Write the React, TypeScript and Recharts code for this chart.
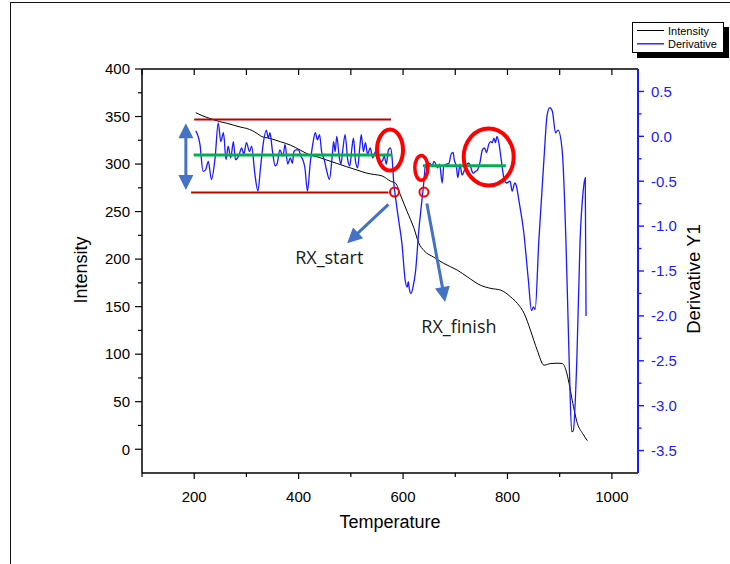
import React from 'react';
import { LineChart, Line, XAxis, YAxis, ReferenceLine, ReferenceDot, Legend, Label } from 'recharts';

// ---------- data ----------
const intensityT = [203, 215, 230, 249, 262, 275, 288, 300, 312, 320, 329, 345, 365, 384, 403, 422, 435, 454, 473, 492, 512, 530, 545, 560, 576, 586, 595, 608, 621, 630, 640, 659, 678, 704, 723, 748, 768, 787, 806, 819, 832, 844, 857, 870, 883, 895, 905, 912, 918, 924, 934, 944, 953];
const intensityV = [354, 351, 348, 344.6, 343, 341, 339, 337.5, 335, 332.3, 329, 327, 323.5, 320, 314.7, 309.5, 307.7, 304.2, 300.7, 297.2, 293.7, 290.5, 289, 287.5, 282, 279.7, 267.4, 249.8, 232.3, 217, 209, 202, 195.5, 188.4, 181.4, 172.6, 169.2, 167.4, 160.3, 153.4, 142.8, 125.3, 104.2, 88.4, 90.2, 90.5, 90.2, 83.2, 69.2, 51.6, 27, 16.5, 9];

const derivT = [203, 211, 217, 222, 227, 233, 240, 246, 251, 256, 261, 265, 270, 275, 279, 285, 291, 295, 300, 306, 310, 316, 322, 327, 332, 338, 342, 345, 350, 355, 359, 364, 370, 374, 379, 384, 388, 391, 395, 400, 404, 408, 412, 417, 422, 427, 432, 436, 440, 444, 449, 454, 459, 464, 467, 470, 473, 478, 481, 485, 489, 494, 498, 502, 505, 509, 513, 517, 520, 524, 528, 532, 537, 542, 547, 552, 556, 560, 564, 568, 572, 576, 579, 582, 586, 592, 598, 604, 608, 610, 612, 615, 619, 624, 630, 636, 640, 643, 646, 651, 656, 659, 662, 666, 670, 675, 678, 683, 688, 692, 696, 698, 702, 705, 709, 713, 718, 722, 726, 729, 734, 739, 743, 747, 752, 756, 760, 764, 768, 771, 774, 777, 780, 784, 788, 793, 798, 805, 809, 814, 817, 822, 831, 840, 846, 850, 853, 860, 870, 876, 881, 886, 892, 897, 905, 912, 918, 923, 926, 933, 939, 945, 949, 950.5];
const derivV = [0.06, -0.09, -0.39, -0.37, -0.28, -0.48, -0.24, 0.15, -0.06, 0.04, -0.26, -0.11, -0.24, -0.06, -0.26, -0.22, -0.13, -0.2, -0.07, -0.17, -0.11, -0.41, -0.61, -0.35, -0.09, 0.07, -0.02, 0.04, -0.17, -0.33, -0.3, -0.15, -0.22, -0.09, -0.31, -0.24, -0.3, -0.17, -0.15, -0.15, -0.22, -0.26, -0.35, -0.61, -0.31, -0.09, 0.04, -0.04, 0.02, -0.17, -0.26, -0.39, -0.48, -0.24, -0.06, -0.17, 0, -0.24, -0.31, -0.13, 0.02, -0.26, -0.33, -0.13, -0.02, -0.28, -0.35, -0.13, 0.02, -0.17, -0.07, -0.2, -0.13, -0.24, -0.17, -0.24, -0.28, -0.28, -0.22, -0.31, -0.15, -0.13, -0.24, -0.5, -0.7, -0.95, -1.2, -1.6, -1.68, -1.62, -1.7, -1.75, -1.68, -1.5, -1.06, -0.72, -0.5, -0.31, -0.37, -0.3, -0.33, -0.28, -0.3, -0.35, -0.31, -0.52, -0.33, -0.31, -0.3, -0.2, -0.18, -0.26, -0.33, -0.46, -0.31, -0.43, -0.37, -0.31, -0.3, -0.33, -0.41, -0.39, -0.37, -0.3, -0.15, -0.13, -0.18, -0.09, -0.06, -0.07, -0.02, -0.07, 0, -0.09, -0.26, -0.46, -0.52, -0.5, -0.61, -0.52, -0.55, -0.72, -1.06, -1.6, -1.94, -1.9, -1.93, -1.17, -0.24, 0.24, 0.32, 0.28, 0.04, 0.07, -0.17, -1.17, -2.46, -3.29, -3.28, -2.46, -1.17, -0.61, -0.46, -2.0];

const xTicks = [100, 200, 300, 400, 500, 600, 700, 800, 900, 1000];
const xMajor = [200, 400, 600, 800, 1000];
const leftTicks = [0, 25, 50, 75, 100, 125, 150, 175, 200, 225, 250, 275, 300, 325, 350, 375, 400];
const leftMajor = [0, 50, 100, 150, 200, 250, 300, 350, 400];
const rightTicks = [-3.5, -3.25, -3, -2.75, -2.5, -2.25, -2, -1.75, -1.5, -1.25, -1, -0.75, -0.5, -0.25, 0, 0.25, 0.5];
const rightMajor = [-3.5, -3, -2.5, -2, -1.5, -1, -0.5, 0, 0.5];

const intensityData = intensityT.map((t, i) => ({ t, v: intensityV[i] }));
const derivData = derivT.map((t, i) => ({ t, d: derivV[i] }));

// ---------- styles ----------
const FONT = '"Liberation Sans", Arial, sans-serif';
const CAL = '"Open Sans", "Noto Sans", sans-serif';
const BLUE = '#1a1aff';
const RED = '#ff0000';
const DARKRED = '#c00000';
const GREEN = '#00b050';
const ARROW = '#4472c4';

const BottomTick = (p: any) => {
  const { x, y, payload } = p;
  const major = xMajor.includes(payload.value);
  return (
    <g>
      <line x1={x} x2={x} y1={y} y2={y + (major ? 6 : 4)} stroke="#000" strokeWidth={1.2} />
      {major && (
        <text x={x} y={y + 29} textAnchor="middle" fontSize={15} fontFamily={FONT} fill="#000">
          {payload.value}
        </text>
      )}
    </g>
  );
};

const TopTick = (p: any) => {
  const { x, y } = p;
  return <line x1={x} x2={x} y1={y} y2={y + 6} stroke="#000" strokeWidth={1.2} />;
};

const LeftTick = (p: any) => {
  const { x, y, payload } = p;
  const major = leftMajor.includes(payload.value);
  return (
    <g>
      <line x1={x - (major ? 7 : 4)} x2={x} y1={y} y2={y} stroke="#000" strokeWidth={1.2} />
      {major && (
        <text x={x - 12} y={y + 5.3} textAnchor="end" fontSize={15} fontFamily={FONT} fill="#000">
          {payload.value}
        </text>
      )}
    </g>
  );
};

const RightTick = (p: any) => {
  const { x, y, payload } = p;
  const major = rightMajor.includes(payload.value);
  return (
    <g>
      <line x1={x} x2={x + (major ? 6 : 3.5)} y1={y} y2={y} stroke={BLUE} strokeWidth={1.4} />
      {major && (
        <text x={x + 13} y={y + 5.3} textAnchor="start" fontSize={15} fontFamily={FONT} fill={BLUE}>
          {Number(payload.value).toFixed(1)}
        </text>
      )}
    </g>
  );
};

const arrowShape = (double: boolean) => (p: any) => {
  const x1 = Number(p.x1), y1 = Number(p.y1), x2 = Number(p.x2), y2 = Number(p.y2);
  const dx = x2 - x1, dy = y2 - y1;
  const len = Math.hypot(dx, dy) || 1;
  const ux = dx / len, uy = dy / len;
  const hl = 15, hw = 7.5;
  const head = (tx: number, ty: number, vx: number, vy: number) => {
    const bx = tx - vx * hl, by = ty - vy * hl;
    return `${tx},${ty} ${bx - vy * hw},${by + vx * hw} ${bx + vy * hw},${by - vx * hw}`;
  };
  const sx = double ? x1 + ux * hl * 0.9 : x1;
  const sy = double ? y1 + uy * hl * 0.9 : y1;
  return (
    <g>
      <line x1={sx} y1={sy} x2={x2 - ux * hl * 0.9} y2={y2 - uy * hl * 0.9} stroke={ARROW} strokeWidth={3} />
      <polygon points={head(x2, y2, ux, uy)} fill={ARROW} />
      {double && <polygon points={head(x1, y1, -ux, -uy)} fill={ARROW} />}
    </g>
  );
};

const ellipseShape = (rx: number, ry: number, sw: number) => (p: any) => (
  <ellipse cx={p.cx} cy={p.cy} rx={rx} ry={ry} fill="none" stroke={RED} strokeWidth={sw} />
);

const textShape = (txt: string) => (p: any) => (
  <text x={p.cx} y={p.cy} textAnchor="middle" fontSize={18} fontFamily={CAL} fill="#1a1a1a">
    {txt}
  </text>
);

const LegendBox = () => (
  <div style={{ width: 92, height: 31, boxSizing: 'border-box', border: '1px solid #000', background: '#fff', boxShadow: '5px 5px 0 #000' }}>
    <svg width={90} height={29} style={{ display: 'block' }}>
      <line x1={4} x2={31} y1={7.5} y2={7.5} stroke="#000" strokeWidth={1} />
      <text x={35} y={11.5} fontSize={11} fontFamily={FONT} fill="#000">Intensity</text>
      <line x1={4} x2={31} y1={20.8} y2={20.8} stroke={BLUE} strokeWidth={1.4} />
      <text x={35} y={24.8} fontSize={11} fontFamily={FONT} fill="#000">Derivative</text>
    </svg>
  </div>
);

export default function App() {
  return (
    <div style={{ position: 'fixed', left: 0, top: 0, width: 730, height: 564, overflow: 'hidden', background: '#fff' }}>
      <div style={{ position: 'absolute', left: 10, top: 2, width: 800, height: 700, borderTop: '1.6px solid #111', borderLeft: '1.6px solid #111' }} />
      <div style={{ position: 'absolute', left: 0, top: 0 }}>
        <LineChart width={730} height={564} margin={{ top: 39, right: 22, bottom: 41, left: 72 }}>
          <XAxis
            xAxisId="bottom"
            dataKey="t"
            type="number"
            domain={[100, 1050]}
            allowDataOverflow
            ticks={xTicks}
            interval={0}
            tickSize={0}
            tickMargin={0}
            tickLine={false}
            tick={<BottomTick />}
            height={50}
            axisLine={{ stroke: '#000', strokeWidth: 1.5 }}
          >
            <Label
              content={(p: any) => (
                <text x={390} y={528} textAnchor="middle" fontSize={18} fontFamily={FONT} fill="#000">
                  Temperature
                </text>
              )}
            />
          </XAxis>
          <XAxis
            xAxisId="top"
            orientation="top"
            dataKey="t"
            type="number"
            domain={[100, 1050]}
            allowDataOverflow
            ticks={xTicks}
            interval={0}
            tickSize={0}
            tickMargin={0}
            tickLine={false}
            tick={<TopTick />}
            height={30}
            axisLine={{ stroke: '#000', strokeWidth: 1.5 }}
          />
          <YAxis
            yAxisId="left"
            type="number"
            domain={[-25, 400]}
            allowDataOverflow
            ticks={leftTicks}
            interval={0}
            tickSize={0}
            tickMargin={0}
            tickLine={false}
            tick={<LeftTick />}
            width={70}
            axisLine={{ stroke: '#000', strokeWidth: 1.5 }}
          >
            <Label
              content={(p: any) => (
                <text x={87} y={270} transform="rotate(-90 87 270)" textAnchor="middle" fontSize={18} fontFamily={FONT} fill="#000">
                  Intensity
                </text>
              )}
            />
          </YAxis>
          <YAxis
            yAxisId="right"
            orientation="right"
            type="number"
            domain={[-3.75, 0.75]}
            allowDataOverflow
            ticks={rightTicks}
            interval={0}
            tickSize={0}
            tickMargin={0}
            tickLine={false}
            tick={<RightTick />}
            width={70}
            axisLine={{ stroke: BLUE, strokeWidth: 2 }}
          >
            <Label
              content={(p: any) => (
                <text x={700} y={279} transform="rotate(-90 700 279)" textAnchor="middle" fontSize={18.5} fontFamily={FONT} fill="#000">
                  Derivative Y1
                </text>
              )}
            />
          </YAxis>
          <Legend
            verticalAlign="middle"
            align="center"
            layout="horizontal"
            content={() => <LegendBox />}
            wrapperStyle={{ left: 632, top: 22, width: 92, height: 31 }}
          />
          <Line
            data={intensityData}
            xAxisId="bottom"
            yAxisId="left"
            dataKey="v"
            name="Intensity"
            type="monotone"
            stroke="#000"
            strokeWidth={1}
            dot={false}
            activeDot={false}
            isAnimationActive={false}
          />
          <Line
            data={derivData}
            xAxisId="bottom"
            yAxisId="right"
            dataKey="d"
            name="Derivative"
            type="monotone"
            stroke={BLUE}
            strokeWidth={1.3}
            dot={false}
            activeDot={false}
            isAnimationActive={false}
          />
          {/* annotations */}
          <ReferenceLine xAxisId="bottom" yAxisId="left" ifOverflow="visible" segment={[{ x: 200, y: 347 }, { x: 577, y: 347 }]} stroke={DARKRED} strokeWidth={2} />
          <ReferenceLine xAxisId="bottom" yAxisId="left" ifOverflow="visible" segment={[{ x: 194, y: 270.2 }, { x: 572, y: 270.2 }]} stroke={DARKRED} strokeWidth={2} />
          <ReferenceLine xAxisId="bottom" yAxisId="left" ifOverflow="visible" segment={[{ x: 199, y: 309.5 }, { x: 579, y: 309.5 }]} stroke={GREEN} strokeWidth={3} />
          <ReferenceLine xAxisId="bottom" yAxisId="left" ifOverflow="visible" segment={[{ x: 638, y: 298.2 }, { x: 797, y: 298.2 }]} stroke={GREEN} strokeWidth={3} />
          <ReferenceLine xAxisId="bottom" yAxisId="left" ifOverflow="visible" segment={[{ x: 184, y: 343 }, { x: 184, y: 272.6 }]} shape={arrowShape(true)} />
          <ReferenceLine xAxisId="bottom" yAxisId="left" ifOverflow="visible" segment={[{ x: 572, y: 257.6 }, { x: 493, y: 216.8 }]} shape={arrowShape(false)} />
          <ReferenceLine xAxisId="bottom" yAxisId="left" ifOverflow="visible" segment={[{ x: 645.6, y: 258.6 }, { x: 680.6, y: 155 }]} shape={arrowShape(false)} />
          <ReferenceDot xAxisId="bottom" yAxisId="left" ifOverflow="visible" x={575} y={314.7} shape={ellipseShape(13, 20.5, 4)} />
          <ReferenceDot xAxisId="bottom" yAxisId="left" ifOverflow="visible" x={635} y={296} shape={ellipseShape(6.5, 12.3, 3.5)} />
          <ReferenceDot xAxisId="bottom" yAxisId="left" ifOverflow="visible" x={764} y={307.4} shape={ellipseShape(25, 28.5, 4)} />
          <ReferenceDot xAxisId="bottom" yAxisId="left" ifOverflow="visible" x={583.5} y={270.5} shape={ellipseShape(4.5, 4.5, 2)} />
          <ReferenceDot xAxisId="bottom" yAxisId="left" ifOverflow="visible" x={640} y={270.5} shape={ellipseShape(4.5, 4.5, 2)} />
          <ReferenceDot xAxisId="bottom" yAxisId="left" ifOverflow="visible" x={458.6} y={194.7} shape={textShape('RX_start')} />
          <ReferenceDot xAxisId="bottom" yAxisId="left" ifOverflow="visible" x={707} y={122} shape={textShape('RX_finish')} />
        </LineChart>
      </div>
    </div>
  );
}
